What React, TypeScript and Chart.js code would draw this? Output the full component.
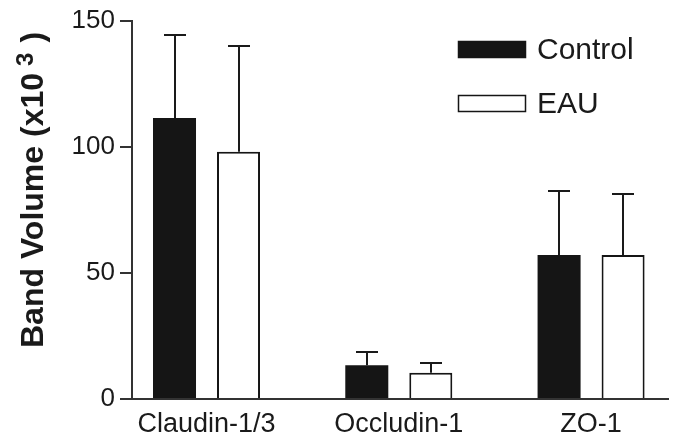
import React, { useEffect, useRef } from 'react';
import { Chart, registerables } from 'chart.js';

Chart.register(...registerables);

const categories = ['Claudin-1/3', 'Occludin-1', 'ZO-1'];
const seriesNames = ['Control', 'EAU'];
const controlMeans = [111.4, 13.4, 57.1];
const controlErrors = [32.7, 5.1, 25.2];
const eauMeans = [98.0, 10.4, 57.1];
const eauErrors = [41.8, 3.9, 24.0];
const yTicks = [0, 50, 100, 150];
const yTitleMain = 'Band Volume (x10';
const yTitleSup = '3';
const yTitleEnd = ')';

const FONT = '"Liberation Sans", Arial, Helvetica, sans-serif';
const INK = '#1a1a1a';
const AXIS = '#333333';

const errorBarPlugin = {
  id: 'errorBars',
  afterDatasetsDraw(chart: any) {
    const ctx = chart.ctx;
    const yScale = chart.scales.y;
    ctx.save();
    ctx.strokeStyle = INK;
    ctx.lineWidth = 2;
    chart.data.datasets.forEach((ds: any, di: number) => {
      const meta = chart.getDatasetMeta(di);
      meta.data.forEach((bar: any, i: number) => {
        const v = ds.data[i].y + ds.errors[i];
        const yTop = Math.round(yScale.getPixelForValue(v));
        const x = Math.round(bar.x);
        ctx.beginPath();
        ctx.moveTo(x, bar.y);
        ctx.lineTo(x, yTop);
        ctx.moveTo(x - 11, yTop);
        ctx.lineTo(x + 11, yTop);
        ctx.stroke();
      });
    });
    ctx.restore();
  },
};

const legendPlugin = {
  id: 'customLegend',
  afterDraw(chart: any) {
    const ctx = chart.ctx;
    ctx.save();
    chart.data.datasets.forEach((ds: any, i: number) => {
      const top = 41 + i * 54;
      ctx.fillStyle = ds.backgroundColor;
      ctx.fillRect(458, top, 68, 17);
      ctx.strokeStyle = ds.borderColor;
      ctx.lineWidth = 1.5;
      ctx.strokeRect(458.5, top + 0.5, 67, 16);
      ctx.fillStyle = INK;
      ctx.font = `30px ${FONT}`;
      ctx.textAlign = 'left';
      ctx.textBaseline = 'middle';
      ctx.fillText(ds.label, 537, top + 10);
    });
    ctx.restore();
  },
};

const yTitlePlugin = {
  id: 'yTitle',
  afterDraw(chart: any) {
    const ctx = chart.ctx;
    ctx.save();
    ctx.translate(43, 348);
    ctx.rotate(-Math.PI / 2);
    ctx.fillStyle = INK;
    ctx.textAlign = 'left';
    ctx.textBaseline = 'alphabetic';
    ctx.font = `bold 32px ${FONT}`;
    ctx.fillText(yTitleMain, 0, 0);
    let x = ctx.measureText(yTitleMain).width + 7;
    ctx.font = `bold 24px ${FONT}`;
    ctx.fillText(yTitleSup, x, -10);
    x += ctx.measureText(yTitleSup).width + 10;
    ctx.font = `bold 32px ${FONT}`;
    ctx.fillText(yTitleEnd, x, 0);
    ctx.restore();
  },
};

export default function App() {
  const ref = useRef<HTMLCanvasElement | null>(null);

  useEffect(() => {
    document.body.style.margin = '0';
    if (!ref.current) return;
    const chart = new Chart(ref.current, {
      type: 'bar',
      data: {
        datasets: [
          {
            label: seriesNames[0],
            data: categories.map((_, i) => ({ x: i, y: controlMeans[i] })),
            errors: controlErrors,
            backgroundColor: '#151515',
            borderColor: '#151515',
            borderWidth: 0,
            categoryPercentage: 0.6658,
            barPercentage: 0.672,
          } as any,
          {
            label: seriesNames[1],
            data: categories.map((_, i) => ({ x: i, y: eauMeans[i] })),
            errors: eauErrors,
            backgroundColor: '#ffffff',
            borderColor: '#151515',
            borderWidth: 2,
            categoryPercentage: 0.6658,
            barPercentage: 0.672,
          } as any,
        ],
      },
      options: {
        responsive: false,
        animation: false,
        devicePixelRatio: 1,
        layout: { padding: { top: 18, right: 6, left: 0, bottom: 0 } },
        plugins: {
          legend: { display: false },
          tooltip: { enabled: false },
        },
        scales: {
          x: {
            type: 'linear',
            offset: false,
            min: -0.3875,
            max: 2.4,
            afterBuildTicks: (scale: any) => {
              scale.ticks = categories.map((_, i) => ({ value: i }));
            },
            afterFit: (scale: any) => {
              scale.height = 48;
            },
            grid: { display: false, drawTicks: false, offset: false },
            border: { display: true, color: AXIS, width: 2 },
            ticks: {
              autoSkip: false,
              maxRotation: 0,
              padding: 9,
              color: INK,
              font: { family: FONT, size: 27 },
              callback: (v: any) => categories[v] ?? '',
            },
          },
          y: {
            type: 'linear',
            min: yTicks[0],
            max: yTicks[yTicks.length - 1],
            afterBuildTicks: (scale: any) => {
              scale.ticks = yTicks.map((v) => ({ value: v }));
            },
            afterFit: (scale: any) => {
              scale.width = 132;
            },
            grid: {
              display: true,
              drawOnChartArea: false,
              drawTicks: true,
              tickLength: 12,
              color: AXIS,
              lineWidth: 2,
            },
            border: { display: true, color: AXIS, width: 2 },
            title: { display: false },
            ticks: {
              padding: 5,
              color: INK,
              font: { family: FONT, size: 26 },
            },
          },
        },
      } as any,
      plugins: [errorBarPlugin, legendPlugin, yTitlePlugin],
    });
    return () => chart.destroy();
  }, []);

  return (
    <div style={{ width: 674, height: 447, background: '#fff' }}>
      <canvas ref={ref} width={674} height={447} />
    </div>
  );
}
